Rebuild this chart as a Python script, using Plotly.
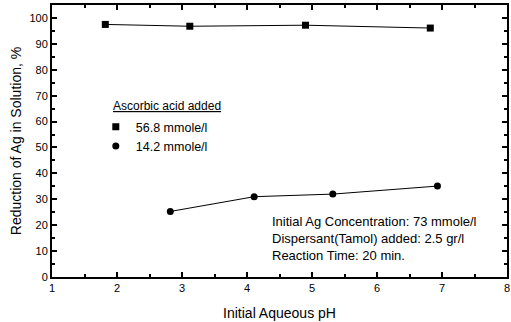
import plotly.graph_objects as go

ph_high = [1.82, 3.12, 4.90, 6.82]
red_high = [97.5, 96.8, 97.2, 96.1]
ph_low = [2.82, 4.11, 5.32, 6.93]
red_low = [25.3, 31.0, 32.0, 35.1]
label_high = "56.8 mmole/l"
label_low = "14.2 mmole/l"
legend_title = "Ascorbic acid added"
notes = ["Initial Ag Concentration: 73 mmole/l",
         "Dispersant(Tamol) added: 2.5 gr/l",
         "Reaction Time: 20 min."]

FONT = "Liberation Sans, Arial, sans-serif"

fig = go.Figure()
fig.add_trace(go.Scatter(x=ph_high, y=red_high, mode="lines+markers",
                         line=dict(color="black", width=1),
                         marker=dict(symbol="square", size=7, color="black"),
                         showlegend=False))
fig.add_trace(go.Scatter(x=ph_low, y=red_low, mode="lines+markers",
                         line=dict(color="black", width=1),
                         marker=dict(symbol="circle", size=7, color="black"),
                         showlegend=False))
fig.add_trace(go.Scatter(x=[None], y=[None], mode="markers", name=label_high,
                         marker=dict(symbol="square", size=7, color="black")))
fig.add_trace(go.Scatter(x=[None], y=[None], mode="markers", name=label_low,
                         marker=dict(symbol="circle", size=7, color="black")))

fig.add_annotation(text="<span style='text-decoration:underline'>" + legend_title + "</span>",
                   xref="paper", yref="paper", x=(111 - 52) / 457, y=(277 - 106) / 272,
                   xanchor="left", yanchor="middle", showarrow=False,
                   font=dict(family=FONT, size=12, color="black"))
fig.add_annotation(text="<br>".join(notes),
                   xref="paper", yref="paper", x=(271 - 52) / 457, y=(277 - 238) / 272,
                   xanchor="left", yanchor="middle", align="left", showarrow=False,
                   font=dict(family=FONT, size=13, color="black"))

axis_common = dict(showline=True, linecolor="black", linewidth=2, mirror="allticks",
                   ticks="inside", ticklen=5, tickwidth=1.5, tickcolor="black",
                   showgrid=False, zeroline=False,
                   tickfont=dict(family=FONT, size=11, color="black"))
fig.update_xaxes(range=[1, 8], dtick=1, tick0=1,
                 minor=dict(ticks="inside", ticklen=3, dtick=0.5, tickwidth=1.5, tickcolor="black"),
                 title=dict(text="Initial Aqueous pH", font=dict(family=FONT, size=14, color="black"),
                            standoff=15),
                 **axis_common)
fig.update_yaxes(range=[0, 105], dtick=10, tick0=0,
                 minor=dict(ticks="inside", ticklen=3, dtick=5, tickwidth=1.5, tickcolor="black"),
                 title=dict(text="Reduction of Ag in Solution, %", font=dict(family=FONT, size=14, color="black"),
                            standoff=5),
                 **axis_common)

fig.update_layout(
    width=511, height=322,
    margin=dict(l=52, r=2, t=5, b=45),
    plot_bgcolor="white", paper_bgcolor="white",
    legend=dict(x=(96 - 52) / 457, y=(277 - 112) / 272, xanchor="left", yanchor="top",
                bgcolor="rgba(0,0,0,0)", borderwidth=0, itemwidth=30,
                tracegroupgap=0,
                font=dict(family=FONT, size=12.5, color="black")),
)

fig.write_html("out.html")
